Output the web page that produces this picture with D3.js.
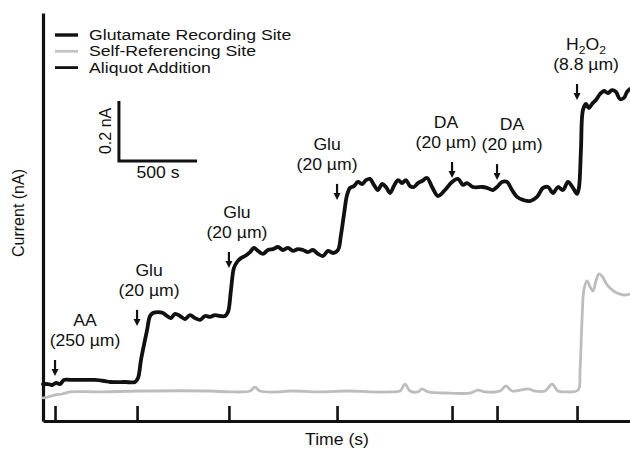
<!DOCTYPE html>
<html><head><meta charset="utf-8">
<script src="https://cdn.jsdelivr.net/npm/d3@7"></script>
<style>
html,body{margin:0;padding:0;background:#fff;}
svg{display:block;font-family:"Liberation Sans",Arial,Helvetica,sans-serif;}
</style></head>
<body>
<svg id="chart" width="630" height="449"></svg>
<script>
// ---- data ----
const glutT = [0,32,58,83,109,134,173,237,333,397,429,525,589,608,627,646,666,685,704,736,768,794,819,845,877,909,941,973,1005,1037,1069,1101,1133,1165,1184,1203,1222,1242,1267,1293,1325,1350,1376,1408,1440,1472,1504,1536,1568,1600,1632,1664,1696,1728,1760,1792,1824,1856,1888,1907,1926,1946,1965,1990,2016,2042,2067,2093,2118,2144,2170,2195,2221,2246,2272,2298,2323,2349,2374,2400,2426,2458,2490,2528,2573,2618,2656,2688,2714,2752,2810,2842,2880,2906,2938,2970,3002,3034,3072,3117,3162,3200,3232,3264,3296,3328,3360,3392,3418,3430,3443,3456,3475,3494,3514,3539,3565,3590,3616,3642,3667,3693,3718,3738,3757];
const glutI = [0.123,0.123,0.120,0.127,0.123,0.137,0.137,0.137,0.137,0.133,0.130,0.130,0.130,0.143,0.203,0.253,0.303,0.350,0.360,0.363,0.360,0.350,0.343,0.357,0.350,0.340,0.353,0.343,0.337,0.350,0.347,0.353,0.350,0.350,0.363,0.437,0.510,0.530,0.543,0.550,0.563,0.577,0.567,0.557,0.570,0.573,0.580,0.570,0.577,0.567,0.573,0.570,0.563,0.570,0.557,0.550,0.567,0.560,0.570,0.620,0.687,0.753,0.777,0.783,0.797,0.790,0.803,0.807,0.787,0.770,0.790,0.780,0.760,0.783,0.803,0.793,0.803,0.783,0.780,0.793,0.800,0.810,0.780,0.750,0.770,0.797,0.807,0.787,0.793,0.780,0.780,0.777,0.770,0.780,0.797,0.797,0.770,0.747,0.737,0.733,0.747,0.777,0.780,0.760,0.780,0.770,0.797,0.777,0.757,0.777,0.903,1.037,1.057,1.043,1.057,1.070,1.090,1.100,1.093,1.103,1.097,1.073,1.077,1.097,1.107];
const selfT = [0,32,77,122,173,365,621,1069,1197,1325,1357,1389,1517,1581,1773,1965,2093,2221,2285,2317,2349,2400,2426,2464,2605,2733,2784,2829,2925,2963,3002,3053,3104,3149,3213,3258,3296,3341,3424,3437,3450,3462,3482,3501,3520,3539,3558,3578,3603,3629,3661,3693,3725,3757];
const selfI = [0.077,0.080,0.087,0.090,0.097,0.097,0.100,0.100,0.097,0.100,0.113,0.100,0.097,0.100,0.097,0.100,0.097,0.097,0.100,0.123,0.100,0.097,0.107,0.097,0.093,0.093,0.103,0.097,0.100,0.117,0.100,0.103,0.107,0.100,0.100,0.123,0.100,0.097,0.103,0.170,0.337,0.437,0.467,0.447,0.433,0.467,0.490,0.483,0.460,0.443,0.430,0.423,0.420,0.423];
const eventTimes = [77, 602, 1190, 1882, 2618, 2906, 3418];
const eventNames = ["AA", "Glu", "Glu", "Glu", "DA", "DA", "H2O2"];
const eventConc = ["(250 µm)", "(20 µm)", "(20 µm)", "(20 µm)", "(20 µm)", "(20 µm)", "(8.8 µm)"];
const eventLevel = [0.150, 0.317, 0.510, 0.737, 0.810, 0.803, 1.070];
const legendLabels = ["Glutamate Recording Site", "Self-Referencing Site", "Aliquot Addition"];
const scaleBarTime = 500, scaleBarCurrent = 0.2;
const scaleBarOrigin = [486, 0.867];

// ---- layout ----
const labelDx = [30, 12, 8, -10, -6, 15, 9];
const svg = d3.select("#chart");
const x = d3.scaleLinear().domain([0, 3757]).range([43, 630]);
const y = d3.scaleLinear().domain([0, 1.36]).range([421, 13]);
const ink = "#111";
const SX = 1.1;

function txt(g, px, py, s, anchor, fs, sx) {
  return g.append("text").attr("transform", `translate(${px},${py}) scale(${sx || SX},1)`)
    .attr("text-anchor", anchor || "middle").attr("font-size", fs || 16).attr("fill", ink).text(s);
}

// axes
const xAxis = d3.axisBottom(x).tickValues(eventTimes).tickSize(-15).tickSizeOuter(0).tickFormat("");
const gx = svg.append("g").attr("transform", "translate(0,421)").call(xAxis);
gx.select(".domain").attr("stroke", ink).attr("stroke-width", 3.2);
gx.selectAll(".tick line").attr("stroke", ink).attr("stroke-width", 2.6);
const yAxis = d3.axisLeft(y).tickValues([]).tickSizeOuter(0);
const gy = svg.append("g").attr("transform", "translate(43,0)").call(yAxis);
gy.select(".domain").attr("stroke", ink).attr("stroke-width", 3.2);

// traces
const line = d3.line().curve(d3.curveCatmullRom.alpha(0.5)).x(d => x(d[0])).y(d => y(d[1]));
svg.append("path").datum(d3.zip(selfT, selfI)).attr("d", line)
  .attr("fill", "none").attr("stroke", "#bdbdbd").attr("stroke-width", 2.8)
  .attr("stroke-linejoin", "round").attr("stroke-linecap", "round");
svg.append("path").datum(d3.zip(glutT, glutI)).attr("d", line)
  .attr("fill", "none").attr("stroke", ink).attr("stroke-width", 3.8)
  .attr("stroke-linejoin", "round").attr("stroke-linecap", "round");

// event arrows + labels
eventTimes.forEach((t, i) => {
  const ax = x(t), tip = y(eventLevel[i]), top = tip - 16;
  const g = svg.append("g");
  g.append("line").attr("x1", ax).attr("x2", ax).attr("y1", top).attr("y2", tip - 5)
    .attr("stroke", ink).attr("stroke-width", 2.2);
  g.append("path").attr("d", `M${ax - 3.5},${tip - 7}L${ax + 3.5},${tip - 7}L${ax},${tip}Z`).attr("fill", ink);
  const lx = ax + labelDx[i];
  const l2 = top - 14, l1 = l2 - 20;
  if (eventNames[i] === "H2O2") {
    const tt = g.append("text").attr("transform", `translate(${lx},${l1}) scale(${SX},1)`)
      .attr("text-anchor", "middle").attr("font-size", 16).attr("fill", ink);
    tt.append("tspan").text("H");
    tt.append("tspan").attr("font-size", 11).attr("dy", 4).text("2");
    tt.append("tspan").attr("dy", -4).text("O");
    tt.append("tspan").attr("font-size", 11).attr("dy", 4).text("2");
  } else {
    txt(g, lx, l1, eventNames[i]);
  }
  txt(g, lx, l2, eventConc[i]);
});

// legend
const legendColors = [ink, "#c4c4c4", ink];
const legendW = [3.4, 2.8, 2.8];
legendLabels.forEach((s, i) => {
  const ly = 35 + i * 16.3;
  svg.append("line").attr("x1", 55).attr("x2", 78).attr("y1", ly).attr("y2", ly)
    .attr("stroke", legendColors[i]).attr("stroke-width", legendW[i]);
  txt(svg, 89, ly + 5, s, "start", 14.5, 1.22);
});

// scale bar
const sbx = x(scaleBarOrigin[0]), sby = y(scaleBarOrigin[1]);
svg.append("path")
  .attr("d", `M${sbx},${y(scaleBarOrigin[1] + scaleBarCurrent)}L${sbx},${sby}L${x(scaleBarOrigin[0] + scaleBarTime)},${sby}`)
  .attr("fill", "none").attr("stroke", ink).attr("stroke-width", 3);
txt(svg, (sbx + x(scaleBarOrigin[0] + scaleBarTime)) / 2, sby + 17, scaleBarTime + " s");
svg.append("text").attr("transform", `translate(${sbx - 8},${(sby + y(scaleBarOrigin[1] + scaleBarCurrent)) / 2}) rotate(-90)`)
  .attr("text-anchor", "middle").attr("font-size", 16).attr("fill", ink).text(scaleBarCurrent + " nA");

// axis titles
txt(svg, 337, 445, "Time (s)");
svg.append("text").attr("transform", "translate(24,213) rotate(-90)")
  .attr("text-anchor", "middle").attr("font-size", 16).attr("fill", ink).text("Current (nA)");
</script>
</body></html>
